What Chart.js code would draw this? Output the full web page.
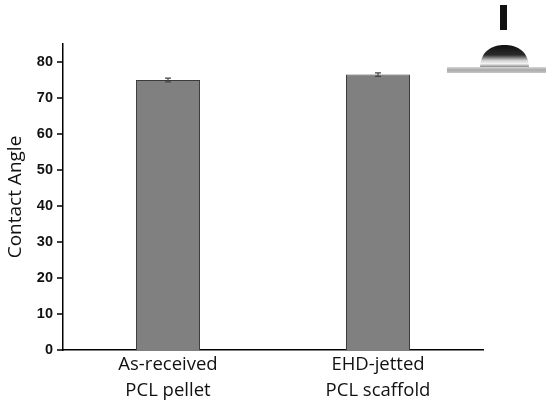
<!DOCTYPE html>
<html>
<head>
<meta charset="utf-8">
<script src="https://cdn.jsdelivr.net/npm/chart.js@4.4.0/dist/chart.umd.min.js"></script>
<style>
  html, body { margin: 0; padding: 0; background: #fff; }
  #wrap { width: 550px; height: 404px; }
</style>
</head>
<body>
<div id="wrap"><canvas id="chart"></canvas></div>
<script>
const categories = [['As-received', 'PCL pellet'], ['EHD-jetted', 'PCL scaffold']];
const contactAngle = [75.0, 76.5];
const errors = [0.5, 0.5];
const yMax = 85;

// minor/major ticks drawn by hand, chart.js has no minor ticks
const axisTicks = {
    id: 'axisTicks',
    afterDraw(chart) {
        const ctx = chart.ctx;
        const y = chart.scales.y;
        ctx.save();
        ctx.strokeStyle = '#000';
        ctx.lineWidth = 1.5;
        y.ticks.forEach(t => {
            if (t.value >= yMax) return;
            const py = Math.round(y.getPixelForValue(t.value));
            const len = t.value % 10 === 0 ? 6 : 3;
            ctx.beginPath();
            ctx.moveTo(y.right - len, py);
            ctx.lineTo(y.right, py);
            ctx.stroke();
        });
        ctx.restore();
    }
};

const errorBars = {
    id: 'errorBars',
    afterDatasetsDraw(chart) {
        const ctx = chart.ctx;
        const meta = chart.getDatasetMeta(0);
        const y = chart.scales.y;
        ctx.save();
        ctx.strokeStyle = '#444';
        ctx.lineWidth = 1.2;
        meta.data.forEach((bar, i) => {
            const top = y.getPixelForValue(contactAngle[i] + errors[i]);
            const bot = y.getPixelForValue(contactAngle[i] - errors[i]);
            ctx.beginPath();
            ctx.moveTo(bar.x, top); ctx.lineTo(bar.x, bot);
            ctx.moveTo(bar.x - 3, top); ctx.lineTo(bar.x + 3, top);
            ctx.moveTo(bar.x - 3, bot); ctx.lineTo(bar.x + 3, bot);
            ctx.stroke();
        });
        ctx.restore();
    }
};

// little droplet picture in the top-right corner
const droplet = {
    id: 'droplet',
    afterDraw(chart) {
        const ctx = chart.ctx;
        ctx.save();
        // needle
        ctx.fillStyle = '#111';
        ctx.fillRect(500, 5, 7, 25);
        // substrate
        let g = ctx.createLinearGradient(0, 67, 0, 73);
        g.addColorStop(0, '#d8d8d8');
        g.addColorStop(0.5, '#a8a8a8');
        g.addColorStop(1, '#c8c8c8');
        ctx.fillStyle = g;
        ctx.fillRect(447, 67, 99, 6);
        // drop
        ctx.beginPath();
        ctx.moveTo(480, 67);
        ctx.bezierCurveTo(481, 50, 493, 45, 504.5, 45);
        ctx.bezierCurveTo(516, 45, 528, 50, 529, 67);
        ctx.closePath();
        g = ctx.createLinearGradient(0, 45, 0, 67);
        g.addColorStop(0, '#111');
        g.addColorStop(0.45, '#2a2a2a');
        g.addColorStop(0.7, '#cfcfcf');
        g.addColorStop(0.85, '#f4f4f4');
        g.addColorStop(1, '#888');
        ctx.fillStyle = g;
        ctx.fill();
        ctx.restore();
    }
};

new Chart(document.getElementById('chart'), {
    type: 'bar',
    data: {
        labels: categories,
        datasets: [{
            data: contactAngle,
            backgroundColor: '#808080',
            borderColor: '#3a3a3a',
            borderWidth: 1,
            borderSkipped: 'bottom',
            barPercentage: 0.305,
            categoryPercentage: 1
        }]
    },
    options: {
        responsive: true,
        maintainAspectRatio: false,
        animation: false,
        devicePixelRatio: 1,
        layout: { padding: { top: 44, right: 67, left: 0, bottom: 0 } },
        plugins: {
            legend: { display: false },
            tooltip: { enabled: false }
        },
        scales: {
            x: {
                grid: { display: false, drawTicks: false },
                border: { display: true, color: '#000', width: 1.5 },
                ticks: {
                    color: '#111',
                    padding: 2,
                    maxRotation: 0,
                    font: { family: 'Open Sans', size: 18.5, lineHeight: 1.4 }
                },
                afterFit(scale) { scale.height = 54; }
            },
            y: {
                min: 0,
                max: yMax,
                grid: { display: false, drawTicks: false },
                border: { display: true, color: '#000', width: 1.5 },
                ticks: {
                    stepSize: 5,
                    padding: 10,
                    color: '#111',
                    font: { family: 'Liberation Sans', size: 14.5, weight: 'bold' },
                    callback: v => (v % 10 === 0 ? v : '')
                },
                title: {
                    display: true,
                    text: 'Contact Angle',
                    color: '#111',
                    padding: { top: 4, bottom: 0 },
                    font: { family: 'Open Sans', size: 19 }
                },
                afterFit(scale) { scale.width = 63; }
            }
        }
    },
    plugins: [axisTicks, errorBars, droplet]
});
</script>
</body>
</html>
